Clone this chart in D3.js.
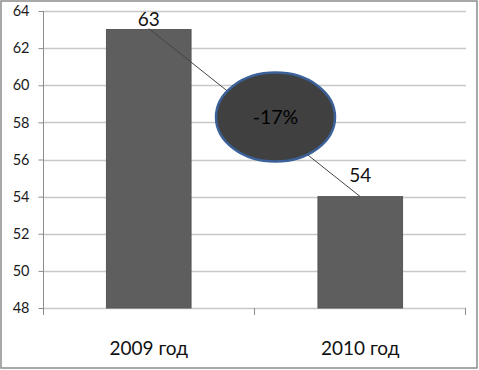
<!DOCTYPE html>
<html><head><meta charset="utf-8">
<script src="https://cdn.jsdelivr.net/npm/d3@7"></script>
<style>body{margin:0;background:#fff}svg{display:block}</style>
</head><body>
<script>
const categories = ["2009 год", "2010 год"];
const values = [63, 54];
const yTicks = [48, 50, 52, 54, 56, 58, 60, 62, 64];
const changeLabel = "-17%";

const W = 479, H = 370;
const m = {left: 43, right: 13, top: 11, bottom: 62};
const font = "Lato, 'Open Sans', sans-serif";
const labelGap = [4, 15];
const svg = d3.select("body").append("svg").attr("width", W).attr("height", H);

svg.append("rect").attr("x", 1).attr("y", 1).attr("width", W - 3).attr("height", H - 3)
  .attr("fill", "#fff").attr("stroke", "#8c8c8c").attr("stroke-width", 1.5);

const x = d3.scaleBand().domain(categories).range([m.left, W - m.right]).paddingInner(0.6).paddingOuter(0.3);
const y = d3.scaleLinear().domain([48, 64]).range([H - m.bottom, m.top]);

// gridlines
svg.append("g").selectAll("line").data(yTicks).join("line")
  .attr("x1", m.left).attr("x2", W - m.right)
  .attr("y1", d => Math.round(y(d)) + 0.5).attr("y2", d => Math.round(y(d)) + 0.5)
  .attr("stroke", "#c8c8c8").attr("stroke-width", 1.5);

// y axis
const yAxis = svg.append("g").attr("transform", `translate(${m.left + 0.5},0)`)
  .call(d3.axisLeft(y).tickValues(yTicks).tickSize(5).tickPadding(9).tickSizeOuter(0));
yAxis.select(".domain").attr("stroke", "#8c8c8c").attr("d", `M0,${m.top}V${H - m.bottom + 7}`);
yAxis.selectAll(".tick line").attr("stroke", "#8c8c8c");
yAxis.selectAll(".tick text").attr("font-family", font).attr("font-size", 14.5).attr("fill", "#1a1a1a");

// category ticks
const edges = [m.left + 0.5, (m.left + W - m.right) / 2, W - m.right - 0.5];
svg.append("g").selectAll("line").data(edges).join("line")
  .attr("x1", d => d).attr("x2", d => d)
  .attr("y1", y(48)).attr("y2", y(48) + 7)
  .attr("stroke", "#8c8c8c").attr("stroke-width", 1);

// bars
svg.append("g").selectAll("rect").data(values).join("rect")
  .attr("x", (d, i) => x(categories[i]))
  .attr("y", d => y(d))
  .attr("width", x.bandwidth())
  .attr("height", d => y(48) - y(d))
  .attr("fill", "#5e5e5e").attr("stroke", "#555").attr("stroke-width", 1);

// category labels
svg.append("g").selectAll("text").data(categories).join("text")
  .attr("x", d => x(d) + x.bandwidth() / 2).attr("y", 355)
  .attr("text-anchor", "middle").attr("font-family", font).attr("font-size", 19).attr("fill", "#111")
  .text(d => d);

// connecting line
const cx = categories.map(c => x(c) + x.bandwidth() / 2);
svg.append("line")
  .attr("x1", cx[0]).attr("y1", y(values[0]) - 1)
  .attr("x2", cx[1]).attr("y2", y(values[1]))
  .attr("stroke", "#444").attr("stroke-width", 1);

// value labels
svg.append("g").selectAll("text").data(values).join("text")
  .attr("x", (d, i) => cx[i]).attr("y", (d, i) => y(d) - labelGap[i])
  .attr("text-anchor", "middle").attr("font-family", font).attr("font-size", 19).attr("fill", "#111")
  .text(d => d);

// ellipse
const ex = (cx[0] + cx[1]) / 2 + 21, ey = y((values[0] + values[1]) / 2) + 4;
svg.append("ellipse").attr("cx", ex).attr("cy", ey).attr("rx", 59.5).attr("ry", 44.5)
  .attr("fill", "#404040").attr("stroke", "#3b6198").attr("stroke-width", 2.5);
svg.append("text").attr("x", ex).attr("y", ey + 7)
  .attr("text-anchor", "middle").attr("font-family", font).attr("font-size", 19.5).attr("fill", "#000")
  .text(changeLabel);
</script>
</body></html>
